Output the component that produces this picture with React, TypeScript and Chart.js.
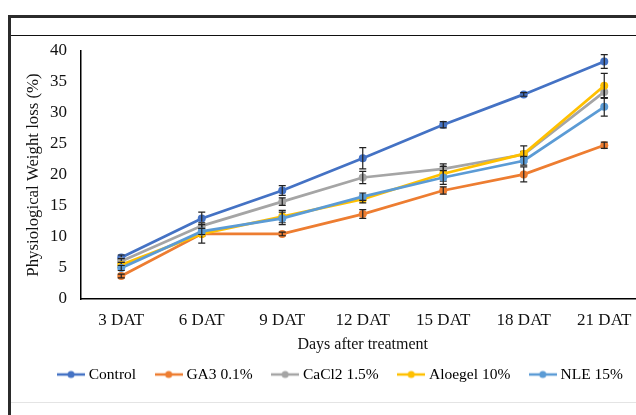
import React, { useEffect, useRef } from 'react';
import { Chart, registerables } from 'chart.js';

Chart.register(...registerables);

const categories = ['3 DAT', '6 DAT', '9 DAT', '12 DAT', '15 DAT', '18 DAT', '21 DAT'];
const seriesNames = ['Control', 'GA3 0.1%', 'CaCl2 1.5%', 'Aloegel 10%', 'NLE 15%'];

const control = [6.7, 13.0, 17.5, 22.7, 28.1, 33.0, 38.3];
const ga3 = [3.7, 10.5, 10.5, 13.7, 17.5, 20.1, 24.8];
const cacl2 = [6.1, 11.8, 15.7, 19.6, 21.0, 23.3, 33.4];
const aloegel = [5.5, 10.5, 13.3, 16.1, 20.2, 23.4, 34.4];
const nle = [5.0, 10.9, 13.0, 16.5, 19.6, 22.3, 31.0];

const controlErr = [0.4, 1.0, 0.8, 1.7, 0.5, 0.3, 1.1];
const ga3Err = [0.3, 0.4, 0.3, 0.7, 0.6, 1.2, 0.5];
const cacl2Err = [0.4, 0.5, 0.6, 1.0, 0.8, 0.5, 1.0];
const aloegelErr = [0.4, 1.5, 1.0, 0.6, 1.2, 1.3, 2.0];
const nleErr = [0.4, 0.5, 1.0, 0.6, 1.1, 0.7, 1.5];

const seriesColors = ['#4472C4', '#ED7D31', '#A5A5A5', '#FFC000', '#5B9BD5'];
const yTickValues = [0, 5, 10, 15, 20, 25, 30, 35, 40];

const seriesValues = [control, ga3, cacl2, aloegel, nle];
const seriesErrors = [controlErr, ga3Err, cacl2Err, aloegelErr, nleErr];

const FONT = "'Liberation Serif', 'Times New Roman', serif";

function makeIcon(color: string) {
  const c = document.createElement('canvas');
  c.width = 28;
  c.height = 10;
  const g = c.getContext('2d')!;
  g.strokeStyle = color;
  g.lineWidth = 2.5;
  g.beginPath();
  g.moveTo(0, 5);
  g.lineTo(28, 5);
  g.stroke();
  g.fillStyle = color;
  g.beginPath();
  g.arc(14, 5, 3.5, 0, Math.PI * 2);
  g.fill();
  return c;
}

const errorBarPlugin = {
  id: 'errorBars',
  afterDatasetDraw(chart: any, args: any) {
    const i = args.index;
    const errs = seriesErrors[i];
    const vals = seriesValues[i];
    const ys = chart.scales.y;
    const ctx = chart.ctx;
    ctx.save();
    ctx.strokeStyle = '#222';
    ctx.lineWidth = 1.2;
    args.meta.data.forEach((pt: any, j: number) => {
      const x = pt.x;
      const yt = ys.getPixelForValue(vals[j] + errs[j]);
      const yb = ys.getPixelForValue(vals[j] - errs[j]);
      ctx.beginPath();
      ctx.moveTo(x, yt);
      ctx.lineTo(x, yb);
      ctx.moveTo(x - 3.5, yt);
      ctx.lineTo(x + 3.5, yt);
      ctx.moveTo(x - 3.5, yb);
      ctx.lineTo(x + 3.5, yb);
      ctx.stroke();
    });
    ctx.restore();
  },
};

export default function App() {
  const ref = useRef<HTMLCanvasElement>(null);

  useEffect(() => {
    if (!ref.current) return;
    const icons = seriesColors.map((c) => makeIcon(c));
    const datasets = seriesNames.map((name, i) => ({
      label: name,
      data: seriesValues[i],
      borderColor: seriesColors[i],
      backgroundColor: seriesColors[i],
      borderWidth: 2.75,
      pointRadius: 4,
      pointBorderWidth: 0,
      pointBackgroundColor: seriesColors[i],
      tension: 0,
      order: seriesNames.length - i,
    }));
    const chart = new Chart(ref.current, {
      type: 'line',
      data: { labels: categories, datasets },
      plugins: [errorBarPlugin],
      options: {
        responsive: false,
        animation: false,
        devicePixelRatio: 1,
        layout: { padding: { left: 0, right: 16, top: 51, bottom: 22.75 } },
        plugins: {
          tooltip: { enabled: false },
          legend: {
            position: 'bottom',
            labels: {
              usePointStyle: true,
              pointStyleWidth: 20,
              boxHeight: 10,
              padding: 22.5,
              color: '#111',
              font: { family: FONT, size: 15.5 },
              generateLabels: (ch: any) =>
                ch.data.datasets.map((ds: any, i: number) => ({
                  text: ds.label,
                  pointStyle: icons[i],
                  fillStyle: ds.borderColor,
                  strokeStyle: ds.borderColor,
                  lineWidth: 0,
                  hidden: false,
                  datasetIndex: i,
                })),
            },
          },
        },
        scales: {
          x: {
            offset: true,
            grid: { display: false, drawTicks: false },
            border: { display: true, color: '#000', width: 1.5 },
            ticks: {
              color: '#111',
              font: { family: FONT, size: 17 },
              padding: 10.9,
              maxRotation: 0,
              autoSkip: false,
            },
            title: {
              display: true,
              text: 'Days after treatment',
              color: '#111',
              font: { family: FONT, size: 16 },
              padding: { top: 0, bottom: -10.35 },
            },
            afterFit: (s: any) => {
              s.height = 45.25;
            },
          },
          y: {
            min: 0,
            max: 40,
            grid: { display: false, drawTicks: false },
            border: { display: true, color: '#000', width: 1.5 },
            afterBuildTicks: (s: any) => {
              s.ticks = yTickValues.map((v) => ({ value: v }));
            },
            ticks: {
              color: '#111',
              font: { family: FONT, size: 17 },
              padding: 14,
            },
            title: {
              display: true,
              text: 'Physiological Weight loss (%)',
              color: '#111',
              font: { family: FONT, size: 16.8 },
              padding: { top: 23.9, bottom: 0 },
            },
            afterFit: (s: any) => {
              s.width = 81;
            },
          },
          y2: {
            position: 'right',
            display: true,
            grid: { display: false, drawTicks: false },
            border: { display: false },
            ticks: { display: false },
            afterFit: (s: any) => {
              s.width = 39.5;
            },
          },
        },
      },
    });
    return () => chart.destroy();
  }, []);

  return (
    <div
      style={{
        position: 'fixed',
        left: 0,
        top: 0,
        width: 636,
        height: 415,
        overflow: 'hidden',
        background: '#fff',
      }}
    >
      <canvas ref={ref} width={700} height={415} style={{ position: 'absolute', left: 0, top: 0 }} />
      <div style={{ position: 'absolute', left: 8, top: 15, width: 3, height: 400, background: '#2b2b2b' }} />
      <div style={{ position: 'absolute', left: 8, top: 15, width: 640, height: 3, background: '#2b2b2b' }} />
      <div style={{ position: 'absolute', left: 11, top: 35, width: 640, height: 1, background: '#111' }} />
      <div style={{ position: 'absolute', left: 11, top: 402, width: 640, height: 1, background: '#e4e4e4' }} />
    </div>
  );
}
